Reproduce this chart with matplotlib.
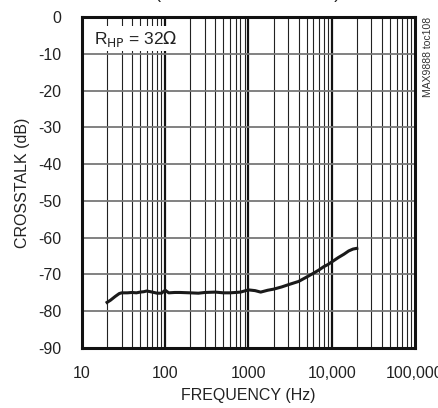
import matplotlib
matplotlib.use("Agg")
import matplotlib.pyplot as plt
import numpy as np

plt.rcParams['font.family'] = ['Liberation Sans Narrow', 'Liberation Sans', 'DejaVu Sans']
plt.rcParams['axes.unicode_minus'] = False

# crosstalk vs frequency
freq = [20, 22, 25, 28, 30, 35, 40, 45, 50, 55, 60, 70, 80, 90, 100, 110, 130,
        150, 200, 250, 300, 400, 500, 600, 700, 800, 1000, 1200, 1400, 1700,
        2000, 2500, 3000, 4000, 5000, 6000, 7000, 8000, 9000, 10000, 12000,
        14000, 16000, 18000, 20000]
crosstalk = [-77.6, -77.0, -76.0, -75.2, -75.0, -75.0, -74.9, -75.0, -74.8, -74.7,
             -74.5, -74.8, -75.1, -75.1, -74.3, -75.0, -74.9, -74.9, -75.0, -75.1,
             -74.9, -74.8, -75.0, -75.0, -74.9, -74.8, -74.2, -74.4, -74.8, -74.3,
             -74.0, -73.4, -72.8, -71.9, -70.7, -69.7, -68.8, -67.9, -67.3, -66.6,
             -65.4, -64.5, -63.6, -63.1, -62.9]

yticks = [0, -10, -20, -30, -40, -50, -60, -70, -80, -90]
xticks = [10, 100, 1000, 10000, 100000]
xticklabels = ['10', '100', '1000', '10,000', '100,000']

fig = plt.figure(figsize=(4.39, 4.08), dpi=100)
ax = fig.add_axes([82/439, 60/408, 333/439, 331/408])

ax.set_xscale('log')
ax.set_xlim(10, 100000)
ax.set_ylim(-90, 0)

# grid
for d in [10, 100, 1000, 10000]:
    for m in range(2, 10):
        ax.axvline(d*m, color='#222222', lw=0.8, zorder=1)
for d in [100, 1000, 10000]:
    ax.axvline(d, color='#111111', lw=1.6, zorder=1)
for y in yticks[1:-1]:
    ax.axhline(y, color='#777777', lw=1.3, zorder=1)

ax.plot(freq, crosstalk, color='#1a1a1a', lw=2.2, zorder=3)

ax.set_xticks(xticks)
ax.set_xticklabels(xticklabels)
ax.xaxis.set_minor_locator(matplotlib.ticker.NullLocator())
ax.set_yticks(yticks)
ax.tick_params(length=0, labelsize=11.5, colors='#222222')
ax.tick_params(axis='x', pad=13)
ax.tick_params(axis='y', pad=15)
for s in ax.spines.values():
    s.set_linewidth(2.2)
    s.set_color('#111111')
    s.set_zorder(4)

ax.set_xlabel('FREQUENCY (Hz)', fontsize=11.5, color='#222222', labelpad=5)
ax.set_ylabel('CROSSTALK (dB)', fontsize=11.5, color='#222222', labelpad=6)

ax.text(0.035, 0.965, r'R$_{\mathrm{HP}}$ = 32$\Omega$', transform=ax.transAxes,
        fontsize=12.5, va='top', ha='left', color='#222222', zorder=5,
        bbox=dict(facecolor='white', edgecolor='none', pad=2))

fig.text(428/439, 0.958, 'MAX9888 toc108', rotation=90, ha='center', va='top',
         fontsize=7.5, color='#333333')

# title, mostly cut off at the top edge
fig.text(248/439, 1.0 - 2/408, '(HEADPHONE MODE)', ha='center', va='bottom',
         fontsize=13, color='#222222')

fig.savefig('out.png', dpi=100)
